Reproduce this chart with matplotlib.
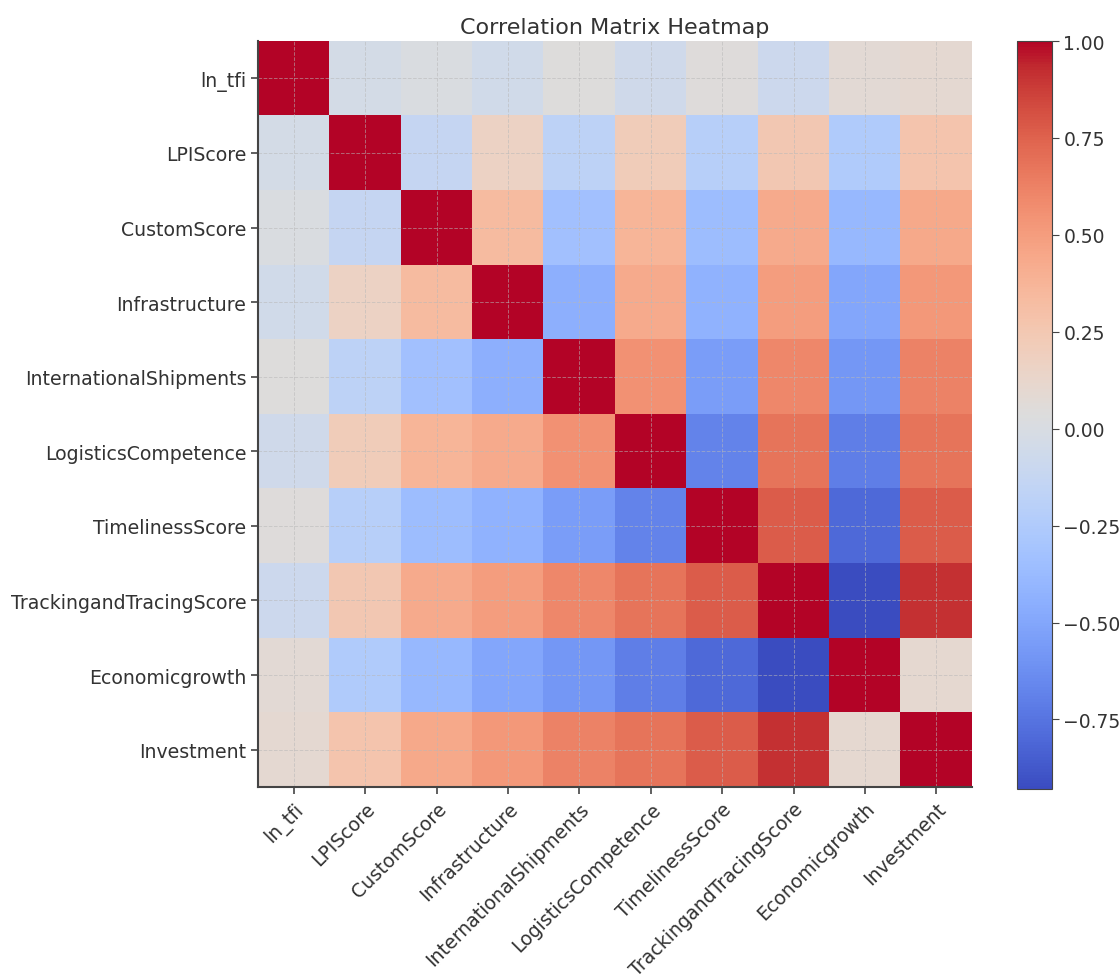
import numpy as np
import matplotlib
matplotlib.use('Agg')
import matplotlib.pyplot as plt

labels = ['ln_tfi', 'LPIScore', 'CustomScore', 'Infrastructure',
          'InternationalShipments', 'LogisticsCompetence', 'TimelinessScore',
          'TrackingandTracingScore', 'Economicgrowth', 'Investment']

# correlation rows (symmetric matrix)
ln_tfi = [1.00, -0.03, 0.01, -0.05, 0.04, -0.06, 0.05, -0.08, 0.08, 0.09]
lpi = [-0.03, 1.00, -0.13, 0.16, -0.17, 0.21, -0.21, 0.25, -0.25, 0.27]
custom = [0.01, -0.13, 1.00, 0.33, -0.33, 0.37, -0.35, 0.43, -0.39, 0.44]
infra = [-0.05, 0.16, 0.33, 1.00, -0.44, 0.43, -0.43, 0.50, -0.50, 0.52]
intl = [0.04, -0.17, -0.33, -0.44, 1.00, 0.55, -0.55, 0.60, -0.58, 0.62]
logistics = [-0.06, 0.21, 0.37, 0.43, 0.55, 1.00, -0.68, 0.68, -0.70, 0.68]
timeliness = [0.05, -0.21, -0.35, -0.43, -0.55, -0.68, 1.00, 0.77, -0.80, 0.77]
tracking = [-0.08, 0.25, 0.43, 0.50, 0.60, 0.68, 0.77, 1.00, -0.93, 0.91]
econ = [0.08, -0.25, -0.39, -0.50, -0.58, -0.70, -0.80, -0.93, 1.00, 0.10]
invest = [0.09, 0.27, 0.44, 0.52, 0.62, 0.68, 0.77, 0.91, 0.10, 1.00]

corr = np.array([ln_tfi, lpi, custom, infra, intl, logistics,
                 timeliness, tracking, econ, invest])

txt = '#333333'
plt.rcParams['text.color'] = txt
plt.rcParams['xtick.color'] = txt
plt.rcParams['ytick.color'] = txt

fig = plt.figure(figsize=(11.2, 9.78), dpi=100)
ax = fig.add_axes([0.2304, 0.1943, 0.6375, 0.7627])
cax = fig.add_axes([0.908, 0.192, 0.031, 0.765])

im = ax.imshow(corr, cmap='coolwarm', aspect='auto', interpolation='nearest')
ax.set_xticks(range(len(labels)))
ax.set_yticks(range(len(labels)))
ax.set_xticklabels(labels, rotation=45, ha='right', rotation_mode='anchor', fontsize=13.6)
ax.set_yticklabels(labels, fontsize=13.6)
ax.grid(True, linestyle='--', color='#b8b8b8', alpha=0.55, linewidth=0.7)
ax.tick_params(length=5, width=1.2, color='#444444')
for s in ['top', 'right']:
    ax.spines[s].set_visible(False)
for s in ['left', 'bottom']:
    ax.spines[s].set_color('#444444')
    ax.spines[s].set_linewidth(1.5)
ax.set_title('Correlation Matrix Heatmap', fontsize=16, pad=6)

cb = fig.colorbar(im, cax=cax)
cb.ax.tick_params(labelsize=13.5, length=5, color='#444444')
cb.outline.set_edgecolor('#444444')

fig.savefig('out.png', dpi=100)
